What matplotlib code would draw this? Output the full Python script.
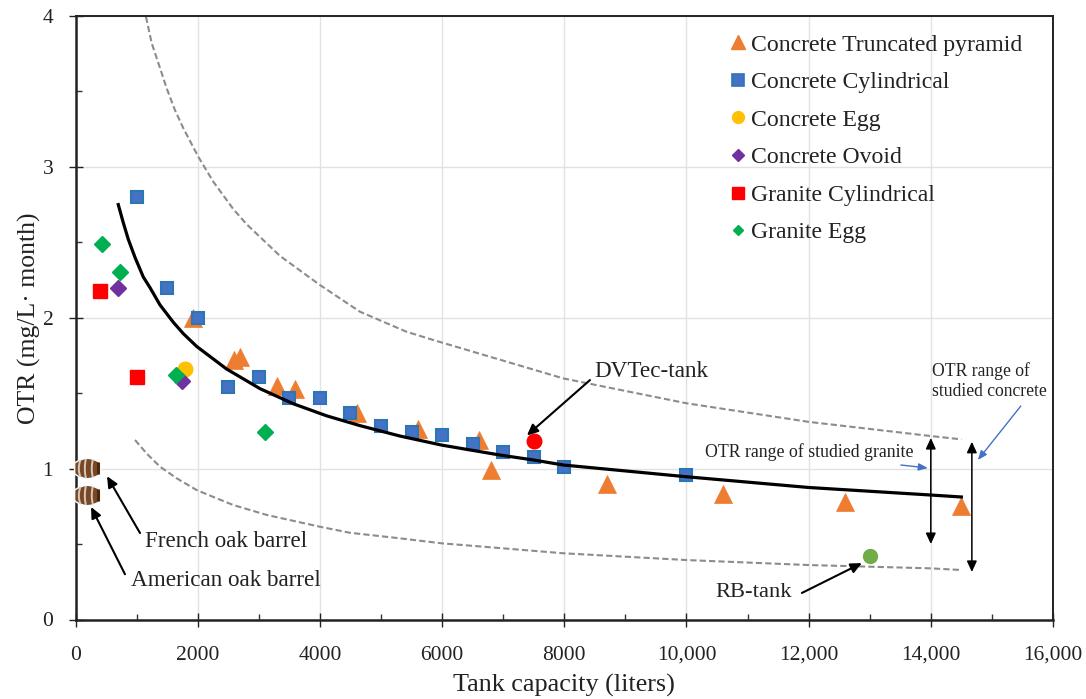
import matplotlib
matplotlib.use('Agg')
import matplotlib.pyplot as plt
from matplotlib.lines import Line2D
from matplotlib.path import Path
from matplotlib.ticker import MultipleLocator

plt.rcParams['font.family'] = ['Liberation Serif', 'DejaVu Serif']

# data
tri_x = [1920, 2600, 2700, 3300, 3600, 4600, 5600, 6600, 6800, 8700, 10600, 12600, 14500]
tri_y = [2.0, 1.72, 1.74, 1.55, 1.53, 1.37, 1.26, 1.19, 0.99, 0.9, 0.83, 0.78, 0.75]
cyl_x = [1000, 1500, 2000, 2500, 3000, 3500, 4000, 4500, 5000, 5500, 6000, 6500, 7000, 7500, 8000, 10000]
cyl_y = [2.8, 2.2, 2.0, 1.54, 1.61, 1.47, 1.47, 1.37, 1.28, 1.24, 1.22, 1.16, 1.11, 1.08, 1.01, 0.96]
egg_x = [1800]
egg_y = [1.66]
ovoid_x = [700, 1750]
ovoid_y = [2.2, 1.58]
gcyl_x = [400, 1000]
gcyl_y = [2.18, 1.61]
gegg_x = [430, 730, 1650, 3100]
gegg_y = [2.49, 2.3, 1.62, 1.24]
dvtec = (7500, 1.18)
rb = (13000, 0.42)
barrel_x = [190, 190]
barrel_y = [1.007, 0.828]

fit_x = [700, 782, 864, 974, 1110, 1219, 1383, 1601, 1764, 1983, 2474, 3020, 3565, 4110, 4656, 5311, 5993, 6948, 7500, 7984, 10003, 12000, 14000, 14500]
fit_y = [2.75, 2.63, 2.52, 2.4, 2.27, 2.2, 2.085, 1.97, 1.895, 1.81, 1.66, 1.53, 1.43, 1.35, 1.285, 1.216, 1.156, 1.09, 1.057, 1.024, 0.946, 0.875, 0.825, 0.812]
up_x = [1154, 1247, 1355, 1493, 1628, 1764, 2010, 2255, 2583, 2800, 3347, 4001, 4656, 5420, 5852, 7984, 10003, 12000, 14000, 14500]
up_y = [3.995, 3.82, 3.69, 3.52, 3.376, 3.257, 3.067, 2.902, 2.72, 2.62, 2.41, 2.217, 2.04, 1.907, 1.853, 1.598, 1.433, 1.31, 1.216, 1.194]
low_x = [974, 1165, 1383, 1656, 1983, 2311, 2580, 3130, 4000, 4490, 5311, 5993, 7984, 10003, 12000, 14000, 14500]
low_y = [1.19, 1.1, 1.013, 0.936, 0.858, 0.803, 0.759, 0.693, 0.615, 0.575, 0.538, 0.505, 0.439, 0.394, 0.361, 0.339, 0.328]

x_ticks = [0, 2000, 4000, 6000, 8000, 10000, 12000, 14000, 16000]
x_labels = ['0', '2000', '4000', '6000', '8000', '10,000', '12,000', '14,000', '16,000']
y_ticks = [0, 1, 2, 3, 4]

# barrel markers, the paths share the same extent so they line up
barrel_body = Path(
    [(-1, -0.42), (-1, 0.42), (-0.6, 0.74), (0, 0.8), (0.6, 0.74), (1, 0.42), (1, -0.42),
     (0.6, -0.74), (0, -0.8), (-0.6, -0.74), (-1, -0.42)],
    [Path.MOVETO, Path.LINETO, Path.CURVE3, Path.CURVE3, Path.CURVE3, Path.CURVE3, Path.LINETO,
     Path.CURVE3, Path.CURVE3, Path.CURVE3, Path.CURVE3])
barrel_bands = Path(
    [(-1, 0), (-1, 0),
     (-0.55, -0.66), (-0.72, -0.2), (-0.72, 0.2), (-0.55, 0.66),
     (-0.12, -0.76), (-0.24, -0.25), (-0.24, 0.25), (-0.12, 0.76),
     (0.42, -0.7), (0.3, -0.25), (0.3, 0.25), (0.42, 0.7)],
    [Path.MOVETO, Path.LINETO,
     Path.MOVETO, Path.CURVE4, Path.CURVE4, Path.CURVE4,
     Path.MOVETO, Path.CURVE4, Path.CURVE4, Path.CURVE4,
     Path.MOVETO, Path.CURVE4, Path.CURVE4, Path.CURVE4])
barrel_cap = Path([(-1, 0), (-1, 0), (0.82, -0.5), (0.82, 0.5)],
                  [Path.MOVETO, Path.LINETO, Path.MOVETO, Path.LINETO])

fig = plt.figure(figsize=(10.86, 6.99), dpi=100)
ax = fig.add_axes([75.5 / 1086, 79.5 / 699, 977.5 / 1086, 603.5 / 699])

ax.plot(up_x, up_y, color='#8c8c8c', lw=1.5, ls=(0, (3, 1.5)), zorder=2)
ax.plot(low_x, low_y, color='#8c8c8c', lw=1.5, ls=(0, (3, 1.5)), zorder=2)

ax.plot(tri_x, tri_y, ls='none', marker='^', ms=12.5, color='#ed7d31', mec='#ed7d31', mew=0.5, zorder=3)
ax.plot(egg_x, egg_y, ls='none', marker='o', ms=10.5, color='#ffc000', mec='#ffc000', zorder=3)
ax.plot(ovoid_x, ovoid_y, ls='none', marker='D', ms=8.5, color='#7030a0', mec='#7030a0', zorder=3)
ax.plot(cyl_x, cyl_y, ls='none', marker='s', ms=9, color='#4472c4', mec='#2e75b6', mew=1.5, zorder=4)
ax.plot(gcyl_x, gcyl_y, ls='none', marker='s', ms=10, color='#ff0000', mec='#ff0000', zorder=4)
ax.plot(gegg_x, gegg_y, ls='none', marker='D', ms=8, color='#00b050', mec='#00b050', zorder=4)

ax.plot(fit_x, fit_y, color='black', lw=2.3, zorder=5)

ax.plot(dvtec[0], dvtec[1], marker='o', ms=10.5, color='#ff0000', mec='#ff0000', zorder=6)
ax.plot(rb[0], rb[1], marker='o', ms=10, color='#70ad47', mec='#70ad47', zorder=6)

ax.plot(barrel_x, barrel_y, ls='none', marker=barrel_body, ms=18.5, color='#7a4722', mec='white', mew=1.0, clip_on=False, zorder=6)
ax.plot(barrel_x, barrel_y, ls='none', marker=barrel_bands, ms=18.5, mfc='none', mec='#cfcac4', mew=1.4, clip_on=False, zorder=7)
ax.plot(barrel_x, barrel_y, ls='none', marker=barrel_cap, ms=18.5, mfc='none', mec='#4a2710', mew=2.2, clip_on=False, zorder=7)

ax.set_xlim(0, 16000)
ax.set_ylim(0, 4)
ax.set_xticks(x_ticks)
ax.set_xticklabels(x_labels)
ax.set_yticks(y_ticks)
ax.xaxis.set_minor_locator(MultipleLocator(1000))
ax.yaxis.set_minor_locator(MultipleLocator(0.5))
ax.grid(True, which='major', color='#e2e2e2', lw=1)
ax.set_axisbelow(True)
ax.tick_params(axis='both', which='major', direction='inout', length=10, width=1, labelsize=15.5, colors='#222222')
ax.tick_params(axis='x', which='major', pad=14)
ax.tick_params(axis='y', which='major', pad=11)
ax.tick_params(axis='both', which='minor', direction='in', length=4, width=1, color='#333333')

for side in ['left', 'bottom']:
    ax.spines[side].set_linewidth(1.8)
    ax.spines[side].set_color('#222222')
for side in ['top', 'right']:
    ax.spines[side].set_linewidth(1.4)
    ax.spines[side].set_color('#222222')

ax.set_xlabel('Tank capacity (liters)', fontsize=18.8, color='#222222', labelpad=6.5)
ax.set_ylabel('OTR (mg/L· month)', fontsize=18.5, color='#222222', labelpad=1)

# legend markers are smaller than the plotted ones
handles = [
    Line2D([], [], ls='none', marker='^', ms=9.5, color='#ed7d31', label='Concrete Truncated pyramid'),
    Line2D([], [], ls='none', marker='s', ms=8.5, color='#4472c4', mec='#2e75b6', mew=1.2, label='Concrete Cylindrical'),
    Line2D([], [], ls='none', marker='o', ms=8.5, color='#ffc000', label='Concrete Egg'),
    Line2D([], [], ls='none', marker='D', ms=5.8, color='#7030a0', label='Concrete Ovoid'),
    Line2D([], [], ls='none', marker='s', ms=8.5, color='#ff0000', label='Granite Cylindrical'),
    Line2D([], [], ls='none', marker='D', ms=5.4, color='#00b050', label='Granite Egg'),
]
ax.legend(handles=handles, loc='upper left', bbox_to_anchor=(0.6655, 0.97), frameon=False,
          fontsize=17.1, labelspacing=0.67, handlelength=1.0, handletextpad=0.05,
          numpoints=1, labelcolor='#222222', borderpad=0, borderaxespad=0)

# arrows and notes
arrow = dict(arrowstyle='-|>,head_width=0.3,head_length=0.65', color='black', lw=1.5, shrinkA=0, shrinkB=0)
ax.annotate('', xy=(516, 0.95), xytext=(1056, 0.573), arrowprops=arrow, zorder=8)
ax.annotate('', xy=(254, 0.746), xytext=(810, 0.30), arrowprops=arrow, zorder=8)
ax.annotate('', xy=(7389, 1.22), xytext=(8421, 1.587), arrowprops=arrow, zorder=8)
ax.annotate('', xy=(12872, 0.374), xytext=(11890, 0.176), arrowprops=arrow, zorder=8)

double = dict(arrowstyle='<|-|>,head_width=0.3,head_length=0.65', color='black', lw=1.1, shrinkA=0, shrinkB=0)
ax.annotate('', xy=(14000, 1.203), xytext=(14000, 0.5), arrowprops=double, zorder=8)
ax.annotate('', xy=(14672, 1.178), xytext=(14672, 0.315), arrowprops=double, zorder=8)

blue = dict(arrowstyle='-|>,head_width=0.22,head_length=0.55', color='#4472c4', lw=1, shrinkA=0, shrinkB=0)
ax.annotate('', xy=(13952, 1.004), xytext=(13510, 1.024), arrowprops=blue, zorder=8)
ax.annotate('', xy=(14770, 1.057), xytext=(15473, 1.415), arrowprops=blue, zorder=8)

ax.text(1135, 0.52, 'French oak barrel', fontsize=16.6, color='#222222', va='center', ha='left')
ax.text(910, 0.26, 'American oak barrel', fontsize=16.7, color='#222222', va='center', ha='left')
ax.text(8500, 1.645, 'DVTec-tank', fontsize=16.7, color='#222222', va='center', ha='left')
ax.text(10480, 0.18, 'RB-tank', fontsize=16.2, color='#222222', va='center', ha='left')
ax.text(10300, 1.11, 'OTR range of studied granite', fontsize=12.8, color='#222222', va='center', ha='left')
ax.text(14020, 1.58, 'OTR range of\nstudied concrete', fontsize=12.7, color='#222222', va='center', ha='left', linespacing=1.25)

fig.savefig('out.png', dpi=100)
